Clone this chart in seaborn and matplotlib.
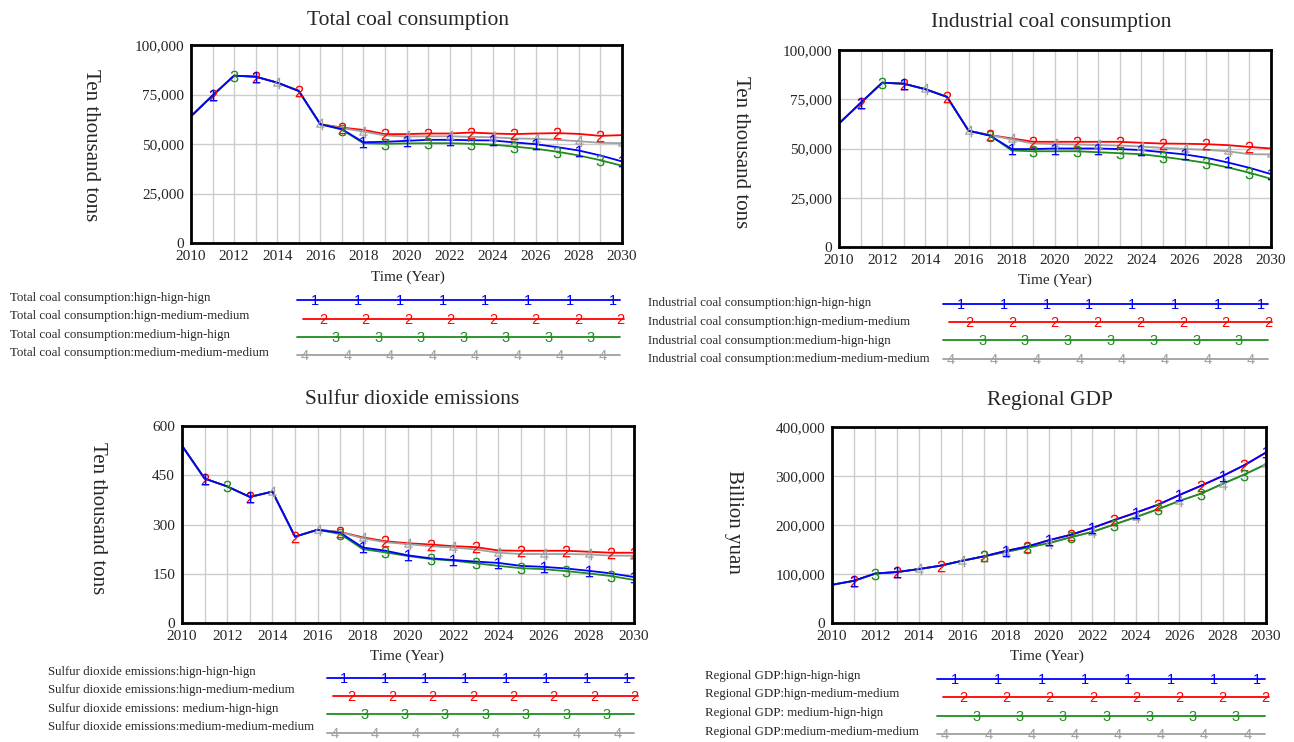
import matplotlib
matplotlib.use("Agg")
import matplotlib.pyplot as plt
import seaborn as sns
import pandas as pd
from matplotlib.ticker import FuncFormatter, MultipleLocator

# ---------------- data ----------------
years = list(range(2010, 2031))
scenarios = ["hign-hign-hign", "hign-medium-medium", "medium-hign-hign", "medium-medium-medium"]

coal_hhh = [64000, 74500, 84500, 84000, 81000, 76800, 60000, 57500, 50900, 51100, 51600,
            52100, 52100, 51900, 51800, 50800, 49900, 48400, 46700, 44200, 41200]
coal_hmm = [64000, 74500, 84500, 84000, 81000, 76800, 60000, 58300, 57100, 55000, 55000,
            55300, 55300, 55800, 55300, 55000, 55300, 55500, 55100, 54100, 54500]
coal_mhh = [64000, 74500, 84500, 84000, 81000, 76800, 60000, 57300, 50400, 50100, 50300,
            50400, 50400, 50100, 49700, 48700, 47600, 46100, 44200, 41800, 39000]
coal_mmm = [64000, 74500, 84500, 84000, 81000, 76800, 60000, 58000, 56300, 54300, 53800,
            53900, 53900, 53600, 53400, 52800, 52600, 52100, 51400, 50600, 50400]

ind_hhh = [62700, 73100, 83400, 82900, 80100, 76200, 59000, 56500, 49700, 49700, 50000,
           50000, 50000, 49700, 49200, 48100, 47000, 45300, 42900, 40200, 37000]
ind_hmm = [62700, 73100, 83400, 82900, 80100, 76200, 59000, 56800, 55100, 53400, 53400,
           53400, 53400, 53400, 52900, 52500, 52400, 52200, 51700, 50800, 50000]
ind_mhh = [62700, 73100, 83400, 82900, 80100, 76200, 59000, 56500, 49000, 48600, 48600,
           48600, 48100, 47600, 47100, 45800, 44300, 42700, 40400, 37700, 34600]
ind_mmm = [62700, 73100, 83400, 82900, 80100, 76200, 59000, 56800, 54600, 52500, 52200,
           52000, 51800, 51500, 51000, 50300, 49800, 49300, 48600, 47100, 47000]

so2_hhh = [540, 440, 416, 384, 400, 263, 284, 275, 230, 220, 206, 197, 192, 187, 183, 174,
           171, 166, 159, 151, 140]
so2_hmm = [540, 440, 416, 384, 400, 263, 284, 277, 261, 249, 243, 239, 234, 231, 221, 220,
           220, 220, 217, 214, 214]
so2_mhh = [540, 440, 416, 384, 400, 263, 284, 271, 225, 215, 204, 195, 190, 182, 174, 167,
           164, 158, 151, 143, 131]
so2_mmm = [540, 440, 416, 384, 400, 263, 284, 277, 258, 246, 240, 234, 230, 224, 214, 210,
           210, 210, 209, 205, 205]

gdp_hhh = [78000, 86000, 101000, 104000, 110000, 117000, 127000, 136000, 147000, 156000, 169000,
           180000, 194000, 210000, 225000, 241000, 261000, 280000, 300000, 322000, 348000]
gdp_hmm = [78000, 86000, 101000, 104000, 110000, 117000, 127000, 136000, 147000, 156000, 169000,
           180000, 194000, 210000, 225000, 241000, 261000, 280000, 300000, 322000, 348000]
gdp_mhh = [78000, 86000, 101000, 104000, 110000, 117000, 127000, 136000, 145000, 154000, 163000,
           175000, 186000, 201000, 216000, 232000, 249000, 264000, 284000, 303000, 324000]
gdp_mmm = [78000, 86000, 101000, 104000, 110000, 117000, 127000, 136000, 145000, 154000, 163000,
           175000, 186000, 201000, 216000, 232000, 249000, 264000, 284000, 303000, 324000]

titles = ["Total coal consumption", "Industrial coal consumption",
          "Sulfur dioxide emissions", "Regional GDP"]
ylabels = ["Ten thousand tons", "Ten thousand tons", "Ten thousand tons", "Billion yuan"]
legend_prefix = ["Total coal consumption", "Industrial coal consumption",
                 "Sulfur dioxide emissions", "Regional GDP"]
legend_sep3 = [":", ":", ": ", ": "]
xlabel = "Time (Year)"

# ---------------- style ----------------
sns.set_style("white")
plt.rcParams["font.family"] = ["Liberation Serif", "DejaVu Serif"]
plt.rcParams["mathtext.fontset"] = "custom"
plt.rcParams["mathtext.rm"] = "Liberation Sans"
plt.rcParams["mathtext.it"] = "Liberation Sans"

colors = {"hign-hign-hign": "#0000ff", "hign-medium-medium": "#ff0000",
          "medium-hign-hign": "#1f8c1f", "medium-medium-medium": "#a0a0a0"}
digits = {"hign-hign-hign": "$1$", "hign-medium-medium": "$2$",
          "medium-hign-hign": "$3$", "medium-medium-medium": "$4$"}
draw_order = ["hign-medium-medium", "medium-medium-medium", "medium-hign-hign", "hign-hign-hign"]
marker_years = {
    "hign-hign-hign": [2011, 2013] + list(range(2018, 2031, 2)),
    "hign-medium-medium": list(range(2011, 2030, 2)),
    "medium-hign-hign": [2012] + list(range(2017, 2030, 2)),
    "medium-medium-medium": [2014, 2016] + list(range(2018, 2031, 2)),
}

W, H = 1294, 742
fig = plt.figure(figsize=(W / 100, H / 100), dpi=100)


def px_axes(l, t, r, b):
    return fig.add_axes([l / W, 1 - b / H, (r - l) / W, (b - t) / H])


panels = [
    dict(series=[coal_hhh, coal_hmm, coal_mhh, coal_mmm], box=(191, 45, 622, 243),
         ymax=100000, ystep=25000, comma=True,
         title_xy=(408, 20), ylab_xy=(90, 145), xlab_xy=(408, 277),
         leg_text_x=10, leg_rows=[298, 316, 335, 353], leg_line=(297, 620), leg_line_y=[300, 319, 337, 355]),
    dict(series=[ind_hhh, ind_hmm, ind_mhh, ind_mmm], box=(839, 50, 1271, 247),
         ymax=100000, ystep=25000, comma=True,
         title_xy=(1051, 23), ylab_xy=(741, 152), xlab_xy=(1055, 280),
         leg_text_x=648, leg_rows=[303, 322, 341, 359], leg_line=(943, 1268), leg_line_y=[304, 322, 340, 359]),
    dict(series=[so2_hhh, so2_hmm, so2_mhh, so2_mmm], box=(182, 426, 634, 623),
         ymax=600, ystep=150, comma=False,
         title_xy=(412, 400), ylab_xy=(97, 518), xlab_xy=(407, 656),
         leg_text_x=48, leg_rows=[672, 690, 709, 727], leg_line=(327, 634), leg_line_y=[678, 696, 714, 733]),
    dict(series=[gdp_hhh, gdp_hmm, gdp_mhh, gdp_mmm], box=(832, 427, 1266, 623),
         ymax=400000, ystep=100000, comma=True,
         title_xy=(1050, 400), ylab_xy=(733, 522), xlab_xy=(1047, 656),
         leg_text_x=705, leg_rows=[676, 694, 713, 732], leg_line=(937, 1265), leg_line_y=[679, 697, 716, 734]),
]

for i, p in enumerate(panels):
    ax = px_axes(*p["box"])
    frames = []
    for name, vals in zip(scenarios, p["series"]):
        frames.append(pd.DataFrame({"year": years, "value": vals, "scenario": name}))
    df = pd.concat(frames, ignore_index=True)
    sns.lineplot(data=df, x="year", y="value", hue="scenario", hue_order=draw_order,
                 palette=colors, linewidth=1.3, legend=False, ax=ax, zorder=3)
    for name in draw_order:
        my = list(marker_years[name])
        if i == 2 and name == "hign-medium-medium":
            my = my + [2030]
        sub = df[(df["scenario"] == name) & (df["year"].isin(my))]
        sns.scatterplot(data=sub, x="year", y="value", marker=digits[name], s=70,
                        color=colors[name], linewidth=0, legend=False, ax=ax, zorder=4)
    ax.set_xlim(2010, 2030)
    ax.set_ylim(0, p["ymax"])
    ax.xaxis.set_major_locator(MultipleLocator(2))
    ax.xaxis.set_minor_locator(MultipleLocator(1))
    ax.yaxis.set_major_locator(MultipleLocator(p["ystep"]))
    if p["comma"]:
        ax.yaxis.set_major_formatter(FuncFormatter(lambda v, pos: f"{int(v):,}"))
    else:
        ax.yaxis.set_major_formatter(FuncFormatter(lambda v, pos: f"{int(v)}"))
    ax.grid(True, which="both", color="#cccccc", linewidth=1.0)
    ax.set_axisbelow(True)
    ax.tick_params(length=0, labelsize=11, pad=5)
    for lab in ax.get_xticklabels() + ax.get_yticklabels():
        lab.set_fontfamily("Liberation Serif")
    for sp in ax.spines.values():
        sp.set_visible(True)
        sp.set_color("black")
        sp.set_linewidth(2)
        sp.set_zorder(6)
    ax.set_xlabel("")
    ax.set_ylabel("")

# overlay for text and legends in pixel coordinates
ov = fig.add_axes([0, 0, 1, 1])
ov.set_xlim(0, W)
ov.set_ylim(H, 0)
ov.axis("off")
ov.patch.set_alpha(0)

legend_digit_offsets = [18, 26, 39, 8]
legend_digit_counts = [8, 8, 7, 8]
spacing = 42.5

for i, p in enumerate(panels):
    ov.text(*p["title_xy"], titles[i], ha="center", va="center", fontsize=15.5)
    ov.text(*p["ylab_xy"], ylabels[i], ha="center", va="center", fontsize=15, rotation=270)
    ov.text(*p["xlab_xy"], xlabel, ha="center", va="center", fontsize=11)
    x0, x1 = p["leg_line"]
    sc = (x1 - x0) / 323.0
    for k, name in enumerate(scenarios):
        sep = legend_sep3[i] if k == 2 else ":"
        label = legend_prefix[i] + sep + name
        ov.text(p["leg_text_x"], p["leg_rows"][k], label, ha="left", va="center", fontsize=9.3)
        y = p["leg_line_y"][k]
        lx0 = x0 + (6 * sc if k == 1 else 0)
        lx1 = x1 + (4 * sc if k == 1 else 0)
        ov.plot([lx0, lx1], [y, y], color=colors[name], linewidth=1.3)
        for j in range(legend_digit_counts[k]):
            dx = x0 + (legend_digit_offsets[k] + j * spacing) * sc
            ov.text(dx, y + 1, digits[name].strip("$"), ha="center", va="center",
                    fontsize=10.5, color=colors[name], family="Liberation Sans")

fig.savefig("out.png", dpi=100)
